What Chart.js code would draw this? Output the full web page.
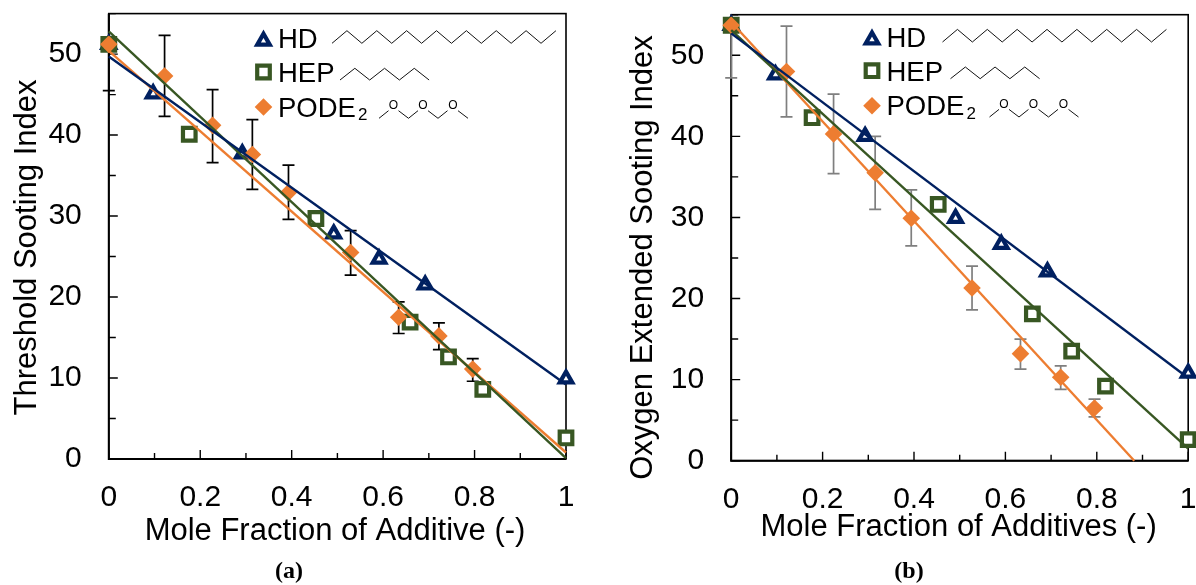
<!DOCTYPE html>
<html lang="en">
<head>
  <meta charset="UTF-8" />
  <title>Sooting index vs mole fraction</title>
  <script src="https://cdn.jsdelivr.net/npm/chart.js"></script>
  <style>
    html, body { margin: 0; padding: 0; background: #fff; overflow: hidden; }
    #page { position: relative; width: 1196px; height: 585px; }
    .panel { position: absolute; top: 0; height: 585px; }
    .caption { position: absolute; top: 557px; font: bold 24px "Liberation Serif", serif; color: #000; transform: translateX(-50%); }
  </style>
</head>
<body>
  <div id="page">
    <div class="panel" style="left:0;width:600px"><canvas id="chartA"></canvas></div>
    <div class="panel" style="left:600px;width:596px"><canvas id="chartB"></canvas></div>
    <div class="caption" style="left:289px">(a)</div>
    <div class="caption" style="left:909px">(b)</div>
  </div>

  <script>
    // Panel (a) - Threshold Sooting Index
    const hdXa = [0, 0.097, 0.292, 0.492, 0.591, 0.692, 1];
    const hdYa = [51.2, 45.1, 37.7, 27.8, 24.7, 21.5, 9.9];
    const hepXa = [0, 0.176, 0.453, 0.659, 0.743, 0.818, 1];
    const hepYa = [51.2, 40.1, 29.7, 16.9, 12.6, 8.6, 2.6];
    const podeXa = [0, 0.122, 0.227, 0.314, 0.393, 0.529, 0.634, 0.722, 0.796];
    const podeYa = [51.2, 47.3, 41.2, 37.6, 32.9, 25.5, 17.5, 15.2, 11.1];
    const podeLowA = [45.5, 42.3, 36.6, 33.3, 29.6, 22.7, 15.5, 13.5, 9.6];
    const podeHighA = [56.9, 52.3, 45.6, 41.9, 36.3, 28.2, 19.4, 16.8, 12.4];
    const hdFitA = [49.7, 9.2];
    const hepFitA = [52.8, 0.1];
    const podeFitA = [50.4, 0.8];

    // Panel (b) - Oxygen Extended Sooting Index
    const hdXb = [0, 0.097, 0.293, 0.491, 0.591, 0.692, 1];
    const hdYb = [53.7, 47.6, 40.0, 29.9, 26.7, 23.3, 10.8];
    const hepXb = [0, 0.177, 0.453, 0.659, 0.745, 0.819, 1];
    const hepYb = [53.7, 42.3, 31.6, 18.1, 13.5, 9.2, 2.6];
    const podeXb = [0, 0.121, 0.224, 0.315, 0.394, 0.527, 0.633, 0.721, 0.795];
    const podeYb = [53.7, 48.0, 40.3, 35.5, 29.9, 21.3, 13.2, 10.3, 6.5];
    const podeLowB = [47.2, 42.4, 35.4, 31.0, 26.5, 18.6, 11.3, 8.8, 5.4];
    const podeHighB = [60.2, 53.6, 45.2, 40.0, 33.4, 24.0, 15.0, 11.7, 7.6];
    const hdFitB = [52.7, 10.2];
    const hepFitB = [53.1, 1.5];
    const podeFitX = [0, 0.882];
    const podeFitB = [54.1, 0];

    const fitX = [0, 1];
    const NAVY = '#002060', GREEN = '#385723', ORANGE = '#ED7D31';
    const FONT = '"Liberation Sans", Arial, sans-serif';
    const TRI_R = 7.2, SQ_R = 8.9, DIA_R = 8.8, STROKE = 4.2;

    const points = (xs, ys) => xs.map((x, i) => ({ x: x, y: ys[i] }));

    function marker(label, xs, ys, style, color, radius, order) {
      return {
        label: label, data: points(xs, ys), order: order, clip: false,
        pointStyle: style, pointRadius: radius, pointHoverRadius: radius,
        pointBackgroundColor: style === 'rectRot' ? color : '#fff',
        pointBorderColor: color, pointBorderWidth: style === 'rectRot' ? 0 : STROKE
      };
    }

    function fit(label, xs, ys, color) {
      return {
        label: label, data: points(xs, ys), order: 0, clip: false, showLine: true,
        borderColor: color, borderWidth: 2.4, pointRadius: 0, pointHoverRadius: 0
      };
    }

    // frame and inward ticks, error bars under the markers
    const framePlugin = {
      id: 'frame',
      beforeDatasetsDraw(chart, args, opts) {
        const ctx = chart.ctx, a = chart.chartArea, xs = chart.scales.x, ys = chart.scales.y;
        ctx.save();
        ctx.strokeStyle = '#000';
        ctx.lineWidth = 1.6;
        ctx.strokeRect(a.left, a.top, a.right - a.left, a.bottom - a.top);
        ctx.lineWidth = 2;
        ctx.beginPath();
        ctx.moveTo(a.left, a.top); ctx.lineTo(a.left, a.bottom); ctx.lineTo(a.right, a.bottom);
        ctx.stroke();
        ctx.lineWidth = 1.4;
        ctx.beginPath();
        xs.ticks.forEach((t, i) => {
          const p = xs.getPixelForValue(t.value);
          ctx.moveTo(p, a.bottom); ctx.lineTo(p, a.bottom - (i % 2 ? 6 : 9));
        });
        ys.ticks.forEach((t, i) => {
          const p = ys.getPixelForValue(t.value);
          ctx.moveTo(a.left, p); ctx.lineTo(a.left + (i % 2 ? 7 : 9), p);
        });
        ctx.stroke();

        ctx.strokeStyle = opts.errColor;
        ctx.lineWidth = 1.7;
        ctx.beginPath();
        opts.errX.forEach((v, i) => {
          const p = xs.getPixelForValue(v);
          const lo = ys.getPixelForValue(opts.errLow[i]);
          const hi = ys.getPixelForValue(Math.min(opts.errHigh[i], ys.max));
          ctx.moveTo(p, lo); ctx.lineTo(p, hi);
          ctx.moveTo(p - 6, lo); ctx.lineTo(p + 6, lo);
          if (opts.errHigh[i] <= ys.max) { ctx.moveTo(p - 6, hi); ctx.lineTo(p + 6, hi); }
        });
        ctx.stroke();
        ctx.restore();
      },
      afterDraw(chart, args, opts) {
        const ctx = chart.ctx;
        ctx.save();
        ctx.fillStyle = '#000';
        ctx.font = '31px ' + FONT;
        ctx.textAlign = 'center';
        ctx.textBaseline = 'middle';
        ctx.fillText(opts.xTitle, opts.xTitleAt[0], opts.xTitleAt[1]);
        ctx.translate(opts.yTitleAt[0], opts.yTitleAt[1]);
        ctx.rotate(-Math.PI / 2);
        ctx.fillText(opts.yTitle, 0, 0);
        ctx.restore();
      }
    };

    function zigzag(ctx, x0, yLow, yHigh, step, segs) {
      ctx.beginPath();
      for (let i = 0; i <= segs; i++) {
        const x = x0 + i * step, y = i % 2 ? yHigh : yLow;
        if (i) ctx.lineTo(x, y); else ctx.moveTo(x, y);
      }
      ctx.stroke();
    }

    // legend with the molecule sketches
    const legendPlugin = {
      id: 'molLegend',
      afterDraw(chart, args, opts) {
        const ctx = chart.ctx;
        const ox = opts.x, oy = opts.y, mol = opts.x + opts.molShift;
        const mx = ox + 263.5, tx = ox + 278;
        ctx.save();
        ctx.fillStyle = '#fff'; ctx.strokeStyle = NAVY; ctx.lineWidth = STROKE;
        Chart.helpers.drawPoint(ctx, { pointStyle: 'triangle', radius: TRI_R, borderWidth: STROKE }, mx, oy + 41);
        ctx.strokeStyle = GREEN;
        Chart.helpers.drawPoint(ctx, { pointStyle: 'rect', radius: SQ_R, borderWidth: STROKE }, mx, oy + 72);
        ctx.fillStyle = ORANGE; ctx.strokeStyle = ORANGE; ctx.lineWidth = 0;
        Chart.helpers.drawPoint(ctx, { pointStyle: 'rectRot', radius: DIA_R, borderWidth: 0 }, mx, oy + 107);

        ctx.fillStyle = '#000';
        ctx.font = '27.5px ' + FONT;
        ctx.textBaseline = 'alphabetic';
        ctx.textAlign = 'left';
        ctx.fillText('HD', tx, oy + 48);
        ctx.fillText('HEP', tx, oy + 82);
        ctx.fillText('PODE', tx, oy + 116.5);
        const w = ctx.measureText('PODE').width;
        ctx.font = '17px ' + FONT;
        ctx.fillText('2', tx + w + 2, oy + 120);

        ctx.strokeStyle = '#111';
        ctx.lineWidth = 1;
        zigzag(ctx, mol + 334, oy + 43.3, oy + 30.7, 14.93, 15);
        zigzag(ctx, mol + 342, oy + 80, oy + 68.3, 14.85, 6);

        const lows = [381, 410.5, 440, 470];
        const y0 = oy + 118.3, y1 = oy + 110.7;
        ctx.beginPath();
        lows.forEach((x, i) => {
          if (i) { ctx.moveTo(mol + x - 10, y1); ctx.lineTo(mol + x, y0); }
          if (i < 3) { ctx.moveTo(mol + x, y0); ctx.lineTo(mol + x + 9.5, y1); }
        });
        ctx.stroke();
        ctx.font = '12px ' + FONT;
        ctx.textAlign = 'center';
        ctx.textBaseline = 'middle';
        [395.4, 425, 455].forEach(x => ctx.fillText('O', mol + x, oy + 106));
        ctx.restore();
      }
    };

    function panel(id, datasets, cfg) {
      new Chart(document.getElementById(id), {
        type: 'scatter',
        data: { datasets: datasets },
        plugins: [framePlugin, legendPlugin],
        options: {
          responsive: true,
          maintainAspectRatio: false,
          animation: false,
          events: [],
          layout: { autoPadding: false, padding: { top: cfg.top, right: cfg.right, left: 0, bottom: 0 } },
          scales: {
            x: {
              type: 'linear', min: 0, max: 1,
              grid: { display: false }, border: { display: false },
              ticks: {
                stepSize: 0.1, autoSkip: false, maxRotation: 0, padding: cfg.xPad, color: '#000',
                font: { family: FONT, size: 30 },
                callback: v => {
                  const t = Math.round(v * 10);
                  return t % 2 ? '' : String(t / 10);
                }
              },
              afterFit(s) { s.height = 585 - cfg.bottom; s.paddingLeft = 0; s.paddingRight = 0; }
            },
            y: {
              type: 'linear', min: 0, max: 55,
              grid: { display: false }, border: { display: false },
              ticks: {
                stepSize: 5, autoSkip: false, padding: cfg.yPad, color: '#000',
                font: { family: FONT, size: 30 },
                callback: v => (v % 10 ? '' : String(v))
              },
              afterFit(s) { s.width = cfg.left; s.paddingTop = 0; s.paddingBottom = 0; }
            }
          },
          plugins: {
            legend: { display: false },
            tooltip: { enabled: false },
            frame: cfg.frame,
            molLegend: cfg.legend
          }
        }
      });
    }

    panel('chartA', [
      fit('HD fit', fitX, hdFitA, NAVY),
      fit('HEP fit', fitX, hepFitA, GREEN),
      fit('PODE2 fit', fitX, podeFitA, ORANGE),
      marker('HD', hdXa, hdYa, 'triangle', NAVY, TRI_R, 3),
      marker('HEP', hepXa, hepYa, 'rect', GREEN, SQ_R, 2),
      marker('PODE2', podeXa, podeYa, 'rectRot', ORANGE, DIA_R, 1)
    ], {
      left: 108.8, right: 34, top: 13.6, bottom: 459, xPad: 13, yPad: 19,
      legend: { x: 0, y: 0, molShift: -2 },
      frame: {
        errX: podeXa, errLow: podeLowA, errHigh: podeHighA, errColor: '#000',
        xTitle: 'Mole Fraction of Additive (-)', xTitleAt: [335, 531],
        yTitle: 'Threshold Sooting Index', yTitleAt: [27, 247.5]
      }
    });

    panel('chartB', [
      fit('HD fit', fitX, hdFitB, NAVY),
      fit('HEP fit', fitX, hepFitB, GREEN),
      fit('PODE2 fit', podeFitX, podeFitB, ORANGE),
      marker('HD', hdXb, hdYb, 'triangle', NAVY, TRI_R, 3),
      marker('HEP', hepXb, hepYb, 'rect', GREEN, SQ_R, 2),
      marker('PODE2', podeXb, podeYb, 'rectRot', ORANGE, DIA_R, 1)
    ], {
      left: 131.2, right: 7.8, top: 14.7, bottom: 460.7, xPad: 13, yPad: 19,
      legend: { x: 8.5, y: -1.3, molShift: 0 },
      frame: {
        errX: podeXb, errLow: podeLowB, errHigh: podeHighB, errColor: '#7f7f7f',
        xTitle: 'Mole Fraction of Additives (-)', xTitleAt: [358.6, 527.7],
        yTitle: 'Oxygen Extended Sooting Index', yTitleAt: [43.7, 257.5]
      }
    });
  </script>
</body>
</html>
